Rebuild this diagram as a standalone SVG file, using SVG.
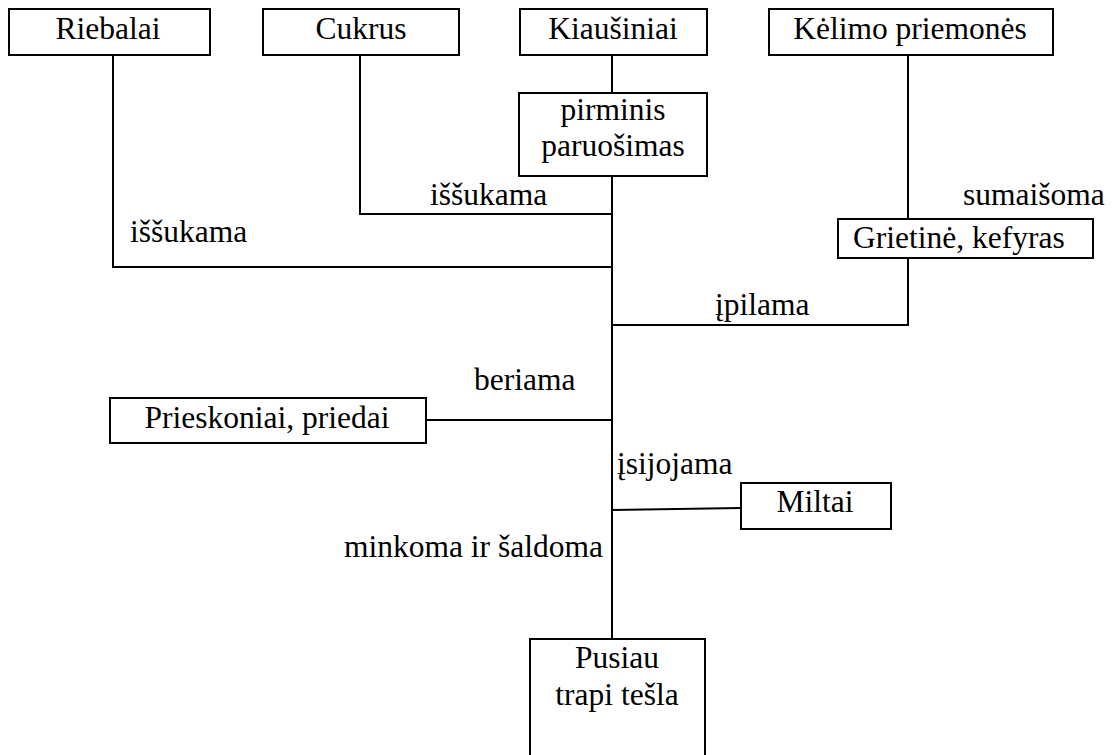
<svg xmlns="http://www.w3.org/2000/svg" width="1113" height="755" viewBox="0 0 1113 755">
  <style>
    .box { fill: #ffffff; stroke: #000000; stroke-width: 2; }
    .link { fill: none; stroke: #000000; stroke-width: 2; }
    text { font-family: "Liberation Serif", "Times New Roman", serif; font-size: 31.5px; fill: #000000; }
    .c { text-anchor: middle; }
  </style>
  <rect width="1113" height="755" fill="#ffffff"/>

  <!-- connectors -->
  <g id="connectors">
    <path class="link" d="M113,55 V267 H612"/>
    <path class="link" d="M360,55 V214 H612"/>
    <path class="link" d="M612,55 V93"/>
    <path class="link" d="M612,176 V639"/>
    <path class="link" d="M908,55 V219"/>
    <path class="link" d="M908,258 V325 H612"/>
    <path class="link" d="M426,420 H612"/>
    <path class="link" d="M612,510 L741,508"/>
  </g>

  <!-- connector labels -->
  <g id="labels">
    <text x="430" y="205">iššukama</text>
    <text x="130" y="242">iššukama</text>
    <text x="963" y="205">sumaišoma</text>
    <text x="715" y="315">įpilama</text>
    <text x="474" y="390">beriama</text>
    <text x="617" y="474">įsijojama</text>
    <text x="344" y="557">minkoma ir šaldoma</text>
  </g>

  <g id="riebalai">
    <rect class="box" x="9" y="9" width="201" height="46"/>
    <text class="c" x="108" y="39">Riebalai</text>
  </g>
  <g id="cukrus">
    <rect class="box" x="263" y="9" width="196" height="46"/>
    <text class="c" x="361" y="39">Cukrus</text>
  </g>
  <g id="kiausiniai">
    <rect class="box" x="520" y="9" width="187" height="46"/>
    <text class="c" x="613" y="39">Kiaušiniai</text>
  </g>
  <g id="kelimo-priemones">
    <rect class="box" x="769" y="9" width="284" height="46"/>
    <text class="c" x="910" y="39">Kėlimo priemonės</text>
  </g>
  <g id="pirminis-paruosimas">
    <rect class="box" x="519" y="93" width="188" height="83"/>
    <text class="c" x="613" y="120">pirminis</text>
    <text class="c" x="613" y="156">paruošimas</text>
  </g>
  <g id="grietine-kefyras">
    <rect class="box" x="838" y="219" width="255" height="39"/>
    <text x="853" y="248">Grietinė, kefyras</text>
  </g>
  <g id="prieskoniai-priedai">
    <rect class="box" x="110" y="398" width="316" height="45"/>
    <text class="c" x="267" y="428">Prieskoniai, priedai</text>
  </g>
  <g id="miltai">
    <rect class="box" x="741" y="483" width="150" height="46"/>
    <text class="c" x="815" y="512">Miltai</text>
  </g>
  <g id="pusiau-trapi-tesla">
    <rect class="box" x="530" y="639" width="175" height="125"/>
    <text class="c" x="617" y="668">Pusiau</text>
    <text class="c" x="617" y="705">trapi tešla</text>
  </g>
</svg>
